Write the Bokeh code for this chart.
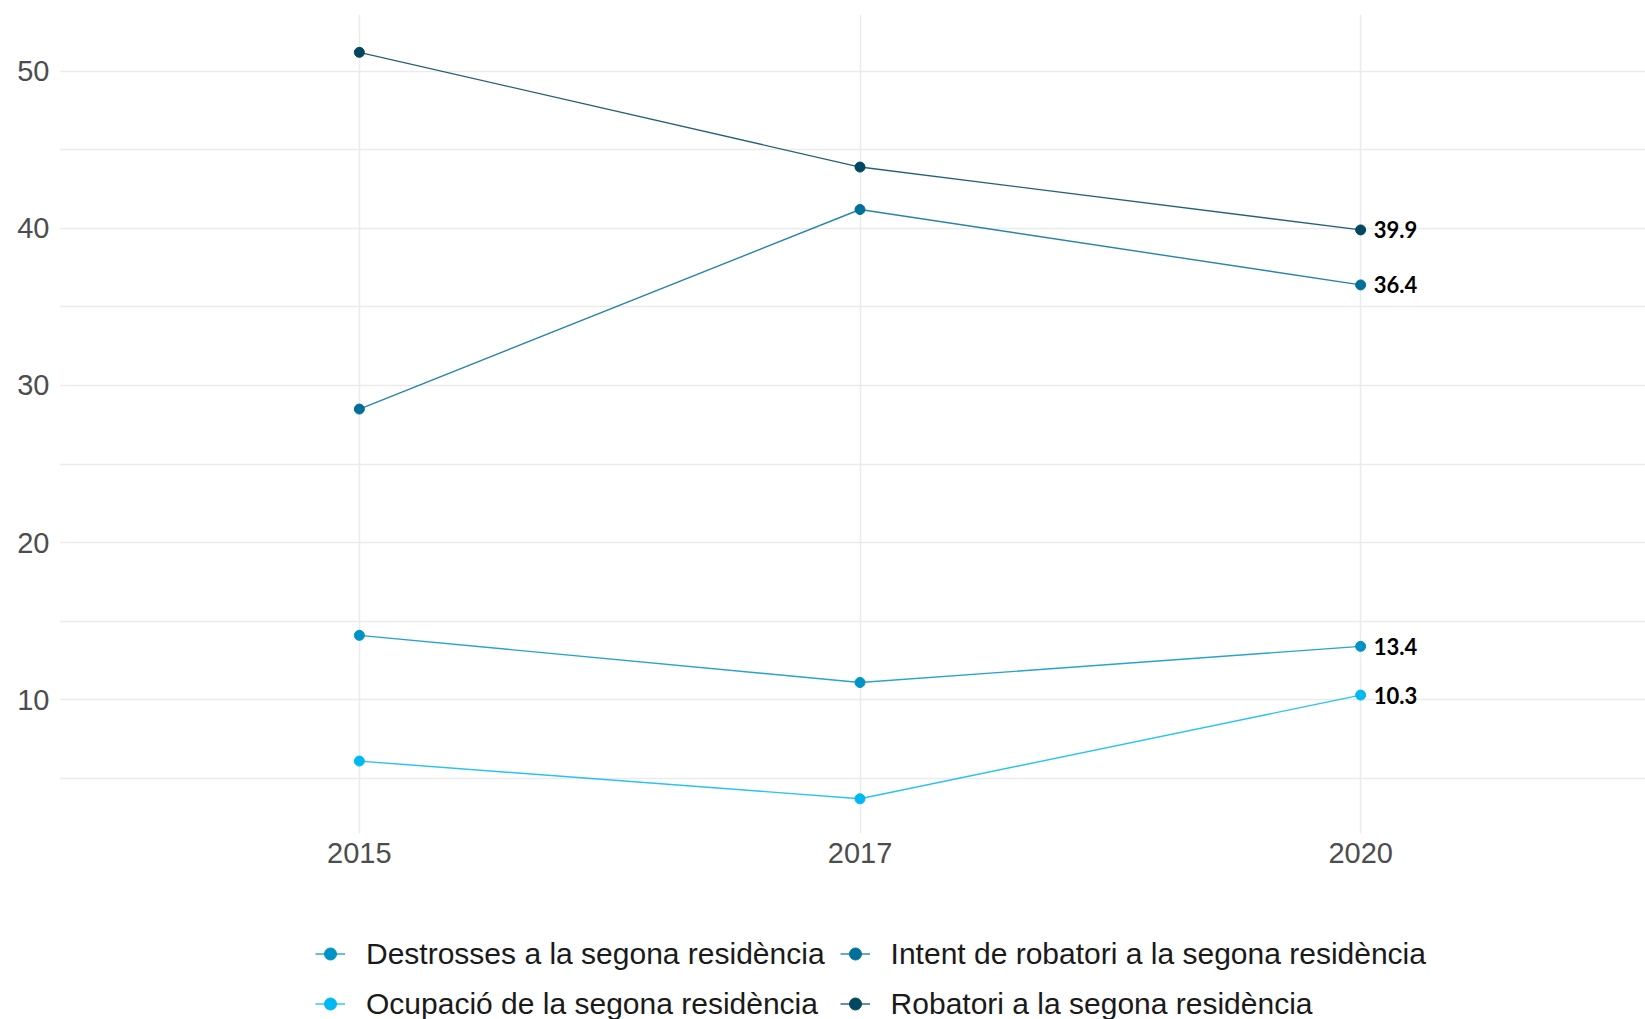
from bokeh.plotting import figure
from bokeh.layouts import column
from bokeh.models import Range1d, FixedTicker, Legend, LegendItem, ColumnDataSource
from bokeh.core.properties import value
from bokeh.embed import file_html
from bokeh.resources import INLINE

years = ["2015", "2017", "2020"]
series_names = [
    "Destrosses a la segona residència",
    "Intent de robatori a la segona residència",
    "Ocupació de la segona residència",
    "Robatori a la segona residència",
]
destrosses = [14.1, 11.1, 13.4]
intent = [28.5, 41.2, 36.4]
ocupacio = [6.1, 3.7, 10.3]
robatori = [51.2, 43.9, 39.9]
series_values = [destrosses, intent, ocupacio, robatori]
series_colors = ["#0093C6", "#007099", "#00B9F2", "#00475F"]
y_major = [10, 20, 30, 40, 50]
y_minor = [5, 15, 25, 35, 45]

xs = list(range(len(years)))

p = figure(width=1645, height=880, output_backend="svg", toolbar_location=None,
           x_range=Range1d(-0.599, 2.569), y_range=Range1d(1.492, 53.608),
           min_border_left=59, min_border_right=0, min_border_top=14, min_border_bottom=47)
p.outline_line_color = None
p.background_fill_color = "white"
p.border_fill_color = "white"

for ax in (p.xaxis[0], p.yaxis[0]):
    ax.axis_line_color = None
    ax.major_tick_line_color = None
    ax.minor_tick_line_color = None
    ax.major_label_text_font = "Liberation Sans"
    ax.major_label_text_font_size = "29px"
    ax.major_label_text_color = "#4D4D4D"

p.xaxis.ticker = FixedTicker(ticks=xs)
p.xaxis.major_label_overrides = {i: y for i, y in enumerate(years)}
p.xaxis.major_label_standoff = 3
p.yaxis.ticker = FixedTicker(ticks=y_major, minor_ticks=y_minor)
p.yaxis.major_label_standoff = 4

p.xgrid.grid_line_color = "#EBEBEB"
p.xgrid.grid_line_width = 1.5
p.ygrid.grid_line_color = "#EBEBEB"
p.ygrid.grid_line_width = 1.5
p.ygrid.minor_grid_line_color = "#EBEBEB"
p.ygrid.minor_grid_line_width = 1.5

# separate strip below the chart that holds the legend
lg = figure(width=1645, height=139, output_backend="svg", toolbar_location=None,
            x_axis_location=None, y_axis_location=None, min_border=0,
            x_range=p.x_range, y_range=p.y_range)
lg.outline_line_color = None
lg.xgrid.visible = False
lg.ygrid.visible = False

items = {}
for name, vals, col in zip(series_names, series_values, series_colors):
    src = ColumnDataSource(dict(x=xs, y=vals))
    p.line("x", "y", source=src, line_color=col, line_width=1.4, line_alpha=0.85)
    p.scatter("x", "y", source=src, size=10, fill_color=col, line_color=col)
    l1 = lg.line("x", "y", source=src, line_color=col, line_width=1.4, line_alpha=0.85, visible=False)
    l2 = lg.scatter("x", "y", source=src, size=9, fill_color=col, line_color=col, visible=False)
    items[name] = LegendItem(label=name, renderers=[l1, l2])

last = len(years) - 1
p.text(x=[last] * len(series_values), y=[v[last] for v in series_values],
       text=[f"{v[last]:.1f}" for v in series_values],
       x_offset=13, text_baseline="middle", text_align="left",
       text_font=value("Lato"), text_font_style="bold", text_font_size="22px",
       text_color="black")

# legend fills column-major: col 1 = items 0, 2 ; col 2 = items 1, 3
legend_order = [series_names[0], series_names[2], series_names[1], series_names[3]]
legend = Legend(items=[items[n] for n in legend_order], ncols=2, location=(256, -2))
legend.label_text_font = "Liberation Sans"
legend.label_text_font_size = "30px"
legend.label_text_color = "#1A1A1A"
legend.glyph_width = 30
legend.glyph_height = 35
legend.label_height = 35
legend.label_standoff = 21
legend.spacing = 15
legend.padding = 0
legend.margin = 0
legend.border_line_color = None
legend.background_fill_color = None
lg.add_layout(legend, "center")

layout = column(p, lg, spacing=0)
open("out.html", "w").write(file_html(layout, INLINE))
